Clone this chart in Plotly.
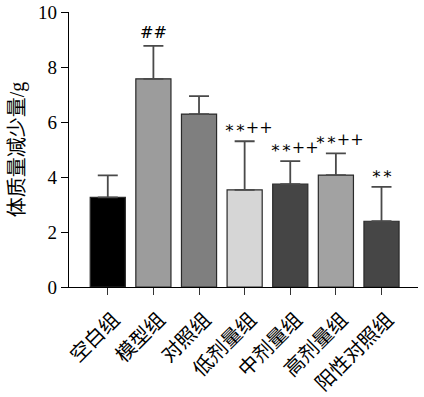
import plotly.graph_objects as go

categories = ["空白组", "模型组", "对照组", "低剂量组", "中剂量组", "高剂量组", "阳性对照组"]
values = [3.26, 7.57, 6.29, 3.53, 3.74, 4.07, 2.39]
errors = [0.80, 1.20, 0.65, 1.77, 0.84, 0.79, 1.25]
marks = ["", "##", "", "∗∗++", "∗∗++", "∗∗++", "∗∗"]
colors = ["#000000", "#9c9c9c", "#7f7f7f", "#d6d6d6", "#454545", "#a2a2a2", "#464646"]

FONT = "Liberation Serif, Noto Sans CJK SC"

fig = go.Figure()
fig.add_trace(go.Bar(
    x=list(range(len(categories))),
    y=values,
    width=0.77,
    marker=dict(color=colors, line=dict(color="#2a2a2a", width=1.2)),
    error_y=dict(type="data", array=errors, arrayminus=[0] * len(errors), symmetric=False,
                 color="#4a4a4a", thickness=1.8, width=10),
    showlegend=False,
))

for i, (v, e, m) in enumerate(zip(values, errors, marks)):
    if m:
        fig.add_annotation(x=i, y=v + e, text=m, showarrow=False, yanchor="bottom",
                           yshift=2, xshift=4 if "+" in m else 0,
                           font=dict(family="DejaVu Serif, Liberation Serif", size=16, color="#000000"))

fig.update_layout(
    width=424, height=397,
    margin=dict(l=69, r=6, t=12, b=110, autoexpand=False),
    plot_bgcolor="white", paper_bgcolor="white",
    font=dict(family=FONT, color="#000000"),
    bargap=0.23,
)
fig.update_xaxes(
    range=[-0.85, 6.80], automargin=False,
    tickmode="array", tickvals=list(range(len(categories))), ticktext=categories,
    tickangle=-45, tickfont=dict(size=20, family=FONT, color="#000000"),
    ticklabelstandoff=5, ticklabelshift=6,
    showline=True, linecolor="#000000", linewidth=1.2,
    ticks="outside", ticklen=7, tickwidth=1.2, tickcolor="#333333",
    showgrid=False, zeroline=False,
)
fig.update_yaxes(
    range=[0, 10], dtick=2, automargin=False,
    tickfont=dict(size=19, family=FONT, color="#000000"),
    showline=True, linecolor="#000000", linewidth=1.2,
    ticks="outside", ticklen=7, tickwidth=1.2, tickcolor="#000000",
    showgrid=False, zeroline=False,
    title=dict(text="体质量减少量/g", font=dict(size=20, family=FONT, color="#000000"), standoff=8),
)

fig.write_html("out.html", config={"displayModeBar": False},
               post_script="document.body.style.margin='0';")
